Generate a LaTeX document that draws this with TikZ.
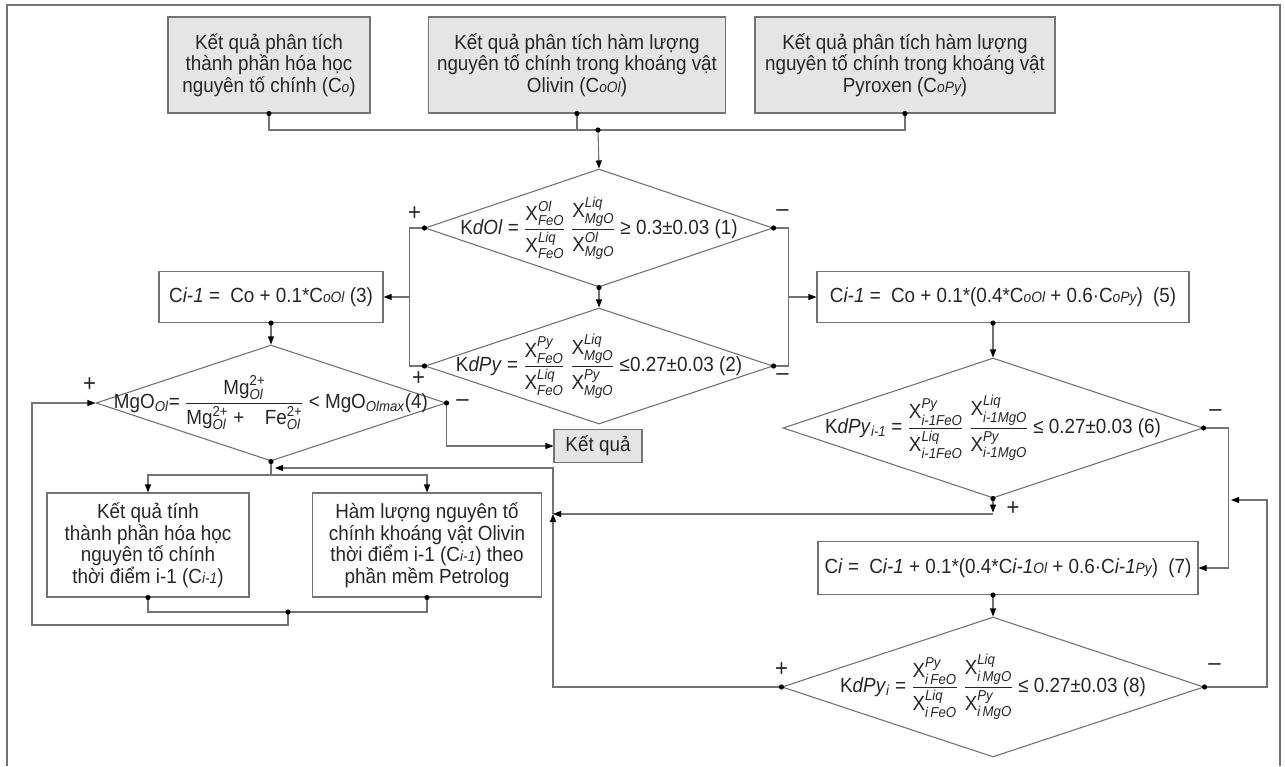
\documentclass[tikz,border=0pt]{standalone}
\usepackage{amsmath}
\usepackage{fontspec}
\setmainfont[FakeStretch=0.92]{Liberation Sans}
\usetikzlibrary{arrows.meta,positioning,shapes.geometric,calc}

\newcommand{\csub}[1]{{\fontsize{15}{15}\selectfont\itshape #1}}
\newcommand{\xv}[2]{\text{X}^{\textit{#1}}_{\textit{#2}}}
\newcommand{\olion}[1]{\text{#1}^{\text{2+}}_{\textit{Ol}}}

\begin{document}
\begin{tikzpicture}[x=1pt, y=-1pt, >={Triangle[length=8pt,width=6pt,color=black]},
  color=black!55, line width=1.1pt,
  every node/.style={align=center, text=black!85, font=\fontsize{20.5}{21.5}\selectfont},
  box/.style={draw, inner sep=0pt, minimum height=51pt},
  grybox/.style={box, fill=black!10},
  dia/.style={draw, diamond, inner sep=0pt},
  sgn/.style={font=\fontsize{24}{24}\selectfont}]
  \useasboundingbox (0,0) rectangle (1285,766);
  \draw (7,766) |- (1280,5) -- (1280,766);

  % input data
  \node[grybox, minimum width=202, minimum height=96] (boxA) at (269,65) {Kết quả phân tích\\thành phần hóa học\\nguyên tố chính (C\csub{o})};
  \node[grybox, minimum width=297, minimum height=96] (boxB) at (577,65) {Kết quả phân tích hàm lượng\\nguyên tố chính trong khoáng vật\\Olivin (C\csub{oOl})};
  \node[grybox, minimum width=300, minimum height=96] (boxC) at (905,65) {Kết quả phân tích hàm lượng\\nguyên tố chính trong khoáng vật\\Pyroxen (C\csub{oPy})};
  \coordinate (j0) at (598,130);
  \draw (boxA.south) |- (j0) -| (boxC.south);
  \draw (boxB.south) -- (boxB.south |- j0);

  % Kd tests (1) and (2)
  \node[dia, minimum width=348, minimum height=118] (d1) at (599,228) {};
  \node (f1) at (d1.center) {K\textit{dOl} = $\dfrac{\xv{Ol}{FeO}}{\xv{Liq}{FeO}}\;\dfrac{\xv{Liq}{MgO}}{\xv{Ol}{MgO}}$ ≥ 0.3±0.03 (1)};
  \node[dia, minimum width=348, minimum height=116] (d2) at (599,366) {};
  \node (f2) at (d2.center) {K\textit{dPy} = $\dfrac{\xv{Py}{FeO}}{\xv{Liq}{FeO}}\;\dfrac{\xv{Liq}{MgO}}{\xv{Py}{MgO}}$ ≤0.27±0.03 (2)};
  \draw[->] (j0) -- (d1.north);
  \draw[->] (d1.south) -- (d2.north);

  \node[box, minimum width=224] (box3) at (271,297) {C\textit{i-1} =\enspace Co + 0.1*C\csub{oOl} (3)};
  \node[box, minimum width=372] (box5) at (1003,297) {C\textit{i-1} =\enspace Co + 0.1*(0.4*C\csub{oOl} + 0.6·C\csub{oPy})\enspace (5)};
  \coordinate (lv) at ($(d1.west)+(-15,0)$);
  \coordinate (rv) at ($(d1.east)+(15,0)$);
  \draw (d1.west) -- (lv) |- (d2.west);
  \draw (d1.east) -- (rv) |- (d2.east);
  \draw[->] (lv |- box3.east) -- (box3.east);
  \draw[->] (rv |- box5.west) -- (box5.west);

  % Olivin branch
  \node[dia, minimum width=350, minimum height=116] (d4) at (271,403) {};
  \node (f4) at (d4.center) {MgO\textsubscript{\textit{Ol}}= $\dfrac{\olion{Mg}}{\olion{Mg}\text{ +\quad}\olion{Fe}}$ < MgO\textsubscript{\textit{Olmax}}(4)};
  \draw[->] (box3.south) -- (d4.north);
  \node[grybox, minimum width=88, minimum height=33] (kq) at (598,446) {Kết quả};
  \draw[->] (d4.east) |- (kq.west);
  \node[box, minimum width=202, minimum height=104] (boxL) at (148,545) {Kết quả tính\\thành phần hóa học\\nguyên tố chính\\thời điểm i-1 (C\csub{i-1})};
  \node[box, minimum width=229, minimum height=104] (boxR) at (427,545) {Hàm lượng nguyên tố\\chính khoáng vật Olivin\\thời điểm i-1 (C\csub{i-1}) theo\\phần mềm Petrolog};
  \coordinate (js) at (271,475);
  \draw (d4.south) -- (js);
  \draw[->] (js) -| (boxL.north);
  \draw[->] (js) -| (boxR.north);
  \coordinate (jb) at (288,612);
  \coordinate (lo) at (32,625);
  \draw (boxL.south) |- (jb) -| (boxR.south);
  \draw[->] (jb) |- (lo) |- (d4.west);
  \coordinate (jr) at (553,514);
  \coordinate (jt) at (275,468);
  \draw[->] (jr) |- (jt);

  % Pyroxen branch
  \node[dia, minimum width=420, minimum height=140] (d6) at (993,428) {};
  \node (f6) at (d6.center) {K\textit{dPy}\textsubscript{\textit{i-1}} = $\dfrac{\xv{Py}{i-1FeO}}{\xv{Liq}{i-1FeO}}\;\dfrac{\xv{Liq}{i-1MgO}}{\xv{Py}{i-1MgO}}$ ≤ 0.27±0.03 (6)};
  \coordinate (b5s) at (box5.south -| d6.north);
  \draw[->] (b5s) -- (d6.north);
  \draw[->] (d6.south) -- ++(0,14);
  \draw[->] (d6.south |- jr) -- (jr);
  \node[box, minimum width=380, minimum height=53] (box7) at (1008,568) {C\textit{i} =\enspace C\textit{i-1} + 0.1*(0.4*C\textit{i-1}\csub{Ol} + 0.6·C\textit{i-1}\csub{Py})\enspace (7)};
  \draw[->] (d6.east) -- ++(25,0) |- (box7.east);
  \node[dia, minimum width=422, minimum height=140] (d8) at (993,687) {};
  \node (f8) at (d8.center) {K\textit{dPy}\textsubscript{\textit{i}} = $\dfrac{\xv{Py}{i\,FeO}}{\xv{Liq}{i\,FeO}}\;\dfrac{\xv{Liq}{i\,MgO}}{\xv{Py}{i\,MgO}}$ ≤ 0.27±0.03 (8)};
  \coordinate (b7s) at (box7.south -| d8.north);
  \draw[->] (b7s) -- (d8.north);
  \draw[->] (d8.west) -| (jr);
  \coordinate (rr) at (1267,500);
  \coordinate (rx) at (1231,500);
  \draw[->] (d8.east) -| (rr) -- (rx);

  % signs
  \node[sgn] (p1) at ($(d1.west)+(-10,-14)$) {+};
  \node[sgn] (m1) at ($(d1.east)+(9,-15)$) {–};
  \node[sgn] (p2) at ($(d2.west)+(-6,13)$) {+};
  \node[sgn] (m2) at ($(d2.east)+(9,11)$) {–};
  \node[sgn] (p4) at ($(d4.west)+(-6,-18)$) {+};
  \node[sgn] (m4) at ($(d4.east)+(16,0)$) {–};
  \node[sgn] (m6) at ($(d6.east)+(12,-15)$) {–};
  \node[sgn] (p6) at ($(d6.south)+(20,10)$) {+};
  \node[sgn] (p8) at ($(d8.west)+(0,-17)$) {+};
  \node[sgn] (m8) at ($(d8.east)+(10,-20)$) {–};

  \foreach \p in {boxA.south,boxB.south,boxC.south,j0,d1.west,d1.east,d1.south,d2.west,d2.east,box3.south,d4.east,d4.south,boxL.south,boxR.south,jb,b5s,d6.east,d6.south,b7s,d8.west,d8.east}
    \fill[black] (\p) circle (2.6pt);
\end{tikzpicture}
\end{document}
